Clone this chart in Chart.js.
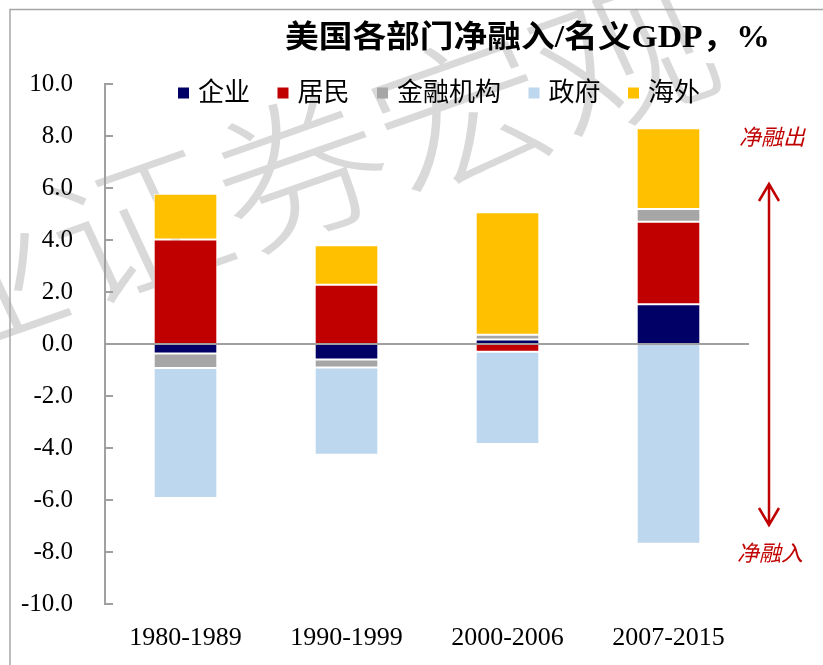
<!DOCTYPE html>
<html><head><meta charset="utf-8">
<script src="https://cdn.jsdelivr.net/npm/chart.js@4.4.1/dist/chart.umd.min.js"></script>
<style>html,body{margin:0;padding:0;background:#fff}#wrap{width:823px;height:665px;position:relative}</style>
</head><body><div id="wrap"><canvas id="c" width="823" height="665"></canvas></div>
<script>
// ---- data ----
const categories = ['1980-1989', '1990-1999', '2000-2006', '2007-2015'];
const seriesNames = ['企业', '居民', '金融机构', '政府', '海外'];
const corporate  = [-0.37, -0.60, 0.17, 1.53];
const household  = [4.02, 2.28, -0.30, 3.17];
const financial  = [-0.55, -0.30, 0.19, 0.49];
const government = [-5.00, -3.36, -3.55, -7.68];
const foreign    = [1.76, 1.52, 4.71, 3.11];
const yMin = -10, yMax = 10, yStep = 2;
const titleText = '美国各部门净融入/名义GDP，%';
const outText = '净融出';
const inText = '净融入';
const watermarkText = '兴业证券宏观';

const colors = ['#000066', '#C00000', '#A6A6A6', '#BDD7EE', '#FFC000'];
const FONT = '"Liberation Serif", "Noto Sans CJK SC", serif';
const seriesValues = [corporate, household, financial, government, foreign];

const decor = {
  id: 'decor',
  beforeDraw(chart) {
    const ctx = chart.ctx;
    ctx.save();
    ctx.fillStyle = '#fff';
    ctx.fillRect(0, 0, chart.width, chart.height);
    // watermark
    ctx.translate(218, 198);
    ctx.scale(1.15, 1);
    ctx.rotate(-22 * Math.PI / 180);
    ctx.font = '300 152px "Noto Sans CJK SC"';
    ctx.fillStyle = 'rgba(185,185,185,0.55)';
    ctx.textAlign = 'center';
    ctx.textBaseline = 'middle';
    ctx.fillText(watermarkText, 0, 0);
    ctx.restore();
    // frame
    ctx.save();
    ctx.strokeStyle = '#a6a6a6';
    ctx.lineWidth = 1.5;
    ctx.beginPath();
    ctx.moveTo(10, chart.height);
    ctx.lineTo(10, 9.5);
    ctx.lineTo(chart.width, 9.5);
    ctx.stroke();
    ctx.restore();
  },
  afterDatasetsDraw(chart) {
    const ctx = chart.ctx;
    const y = chart.scales.y, a = chart.chartArea;
    ctx.save();
    ctx.strokeStyle = '#a0a0a0';
    ctx.lineWidth = 2;
    const y0 = y.getPixelForValue(0);
    ctx.beginPath();
    ctx.moveTo(a.left, y0); ctx.lineTo(a.right, y0);
    y.ticks.forEach((t, i) => {
      const py = y.getPixelForTick(i);
      ctx.moveTo(a.left, py); ctx.lineTo(a.left + 8, py);
    });
    ctx.stroke();
    ctx.restore();
  },
  afterDraw(chart) {
    const ctx = chart.ctx;
    // title (stretched to reference width)
    ctx.save();
    ctx.font = 'bold 31px ' + FONT;
    ctx.fillStyle = '#000';
    ctx.textAlign = 'left';
    ctx.textBaseline = 'middle';
    const tw = ctx.measureText(titleText).width;
    const sx = 485 / tw;
    ctx.translate(285, 39);
    ctx.scale(sx, 1);
    ctx.fillText(titleText, 0, 0);
    ctx.restore();

    // legend from datasets
    ctx.save();
    ctx.font = '26px ' + FONT;
    ctx.textBaseline = 'middle';
    ctx.textAlign = 'left';
    const ds = chart.data.datasets;
    const box = 11, gapBT = 9, gapItem = 27.5;
    const widths = ds.map(d => box + gapBT + ctx.measureText(d.label).width);
    const total = widths.reduce((s, w) => s + w, 0) + gapItem * (ds.length - 1);
    let x = 439 - total / 2;
    const ly = 93;
    ds.forEach((d, i) => {
      ctx.fillStyle = d.backgroundColor;
      ctx.fillRect(x, ly - box / 2, box, box);
      ctx.fillStyle = '#000';
      ctx.fillText(d.label, x + box + gapBT, ly + 1);
      x += widths[i] + gapItem;
    });
    ctx.restore();

    // annotations
    ctx.save();
    ctx.fillStyle = '#C00000';
    ctx.textAlign = 'center';
    ctx.textBaseline = 'middle';
    ctx.font = 'italic 22px "Noto Sans CJK SC"';
    ctx.fillText(outText, 772, 137);
    ctx.fillText(inText, 770, 553);
    ctx.strokeStyle = '#C00000';
    ctx.lineWidth = 2.5;
    ctx.beginPath();
    ctx.moveTo(769, 184); ctx.lineTo(769, 525);
    ctx.moveTo(759, 201); ctx.lineTo(769, 184); ctx.lineTo(779, 201);
    ctx.moveTo(759, 508); ctx.lineTo(769, 525); ctx.lineTo(779, 508);
    ctx.stroke();
    ctx.restore();
  }
};

new Chart(document.getElementById('c'), {
  type: 'bar',
  data: {
    labels: categories,
    datasets: seriesNames.map((n, i) => ({
      label: n,
      data: seriesValues[i],
      backgroundColor: colors[i],
      borderColor: '#ffffff',
      borderWidth: 1,
      borderSkipped: false,
      categoryPercentage: 1,
      barPercentage: 0.395
    }))
  },
  options: {
    responsive: false,
    animation: false,
    devicePixelRatio: 1,
    layout: { padding: { left: 0, right: 74, top: 84, bottom: 0 } },
    plugins: {
      title: { display: false },
      tooltip: { enabled: false },
      legend: { display: false }
    },
    scales: {
      x: {
        stacked: true,
        afterFit(s) { s.height = 61; },
        grid: { display: false },
        border: { display: false },
        ticks: { color: '#000', padding: 11, font: { size: 26, family: FONT } }
      },
      y: {
        stacked: true,
        min: yMin, max: yMax,
        afterFit(s) { s.width = 105; },
        grid: { display: false, drawTicks: false },
        border: { display: true, color: '#a0a0a0', width: 2 },
        ticks: {
          stepSize: yStep, padding: 32, color: '#000',
          font: { size: 25, family: FONT },
          callback: v => Number(v).toFixed(1)
        }
      }
    }
  },
  plugins: [decor]
});
</script></body></html>
